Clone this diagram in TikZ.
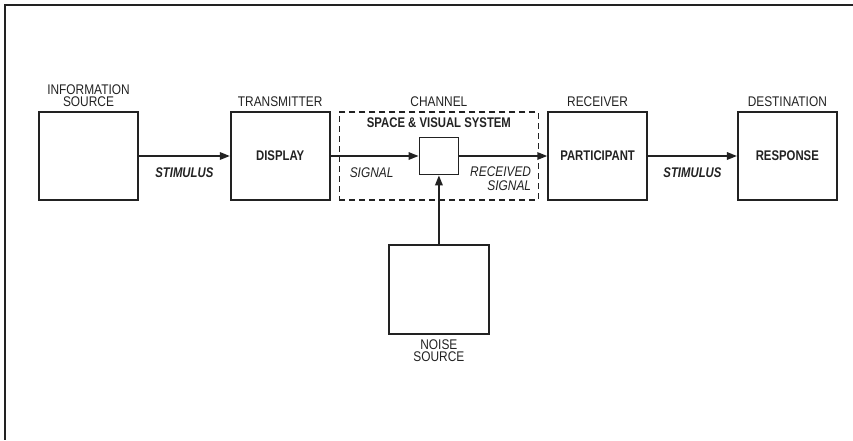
\documentclass[tikz,border=0pt]{standalone}
\usepackage{fontspec}
\setmainfont{Liberation Sans}[FakeStretch=0.85,BoldFeatures={FakeStretch=0.81},BoldItalicFeatures={FakeStretch=0.81}]
\usetikzlibrary{arrows.meta,positioning}
\definecolor{CommInk}{HTML}{222222}
\newcommand\figfont{\fontsize{14}{12.5}\selectfont}

\begin{document}
\begin{tikzpicture}[x=1pt,y=-1pt,node distance=8pt,label distance=3pt]
\tikzset{blk/.style={draw=CommInk,line width=1.7pt,minimum width=99pt,minimum height=88pt,inner sep=0pt,text=CommInk,font=\figfont\bfseries},lab/.style={text=CommInk,align=center,inner sep=1pt,font=\figfont},arr/.style={-{Triangle[length=10pt,width=7.5pt]},CommInk,line width=1.7pt}}
\useasboundingbox (0,0) rectangle (853,440);
\draw[CommInk,line width=1.8pt] (853,5) -- (5,5) -- (5,440);
\node[blk,label={[lab]above:{INFORMATION\\SOURCE}}] (info) at (88.5,156) {};
\node[blk,right=91pt of info,label={[lab]above:TRANSMITTER}] (trans) {DISPLAY};
\node[blk,right=of trans,minimum width=199pt,dash pattern=on 6pt off 4pt,label={[lab]above:CHANNEL}] (chan) {};
\node[blk,right=of chan,label={[lab]above:RECEIVER}] (recv) {PARTICIPANT};
\node[blk,right=89pt of recv,label={[lab]above:DESTINATION}] (dest) {RESPONSE};
\node[blk,minimum width=39pt,minimum height=37pt] (small) at (chan.center) {};
\node[lab,font=\figfont\bfseries,anchor=north] (svs) at ([yshift=-5pt]chan.north) {SPACE \& VISUAL SYSTEM};
\node[blk,below=69pt of small,minimum width=100pt,minimum height=89pt,label={[lab]below:{NOISE\\SOURCE}}] (noise) {};
\node[lab,font=\figfont\itshape,anchor=west] (sig) at ([xshift=10pt,yshift=-17pt]chan.west) {SIGNAL};
\node[lab,font=\fontsize{14}{14}\selectfont\itshape,align=right,anchor=north east] (rsig) at ([xshift=-7pt,yshift=-10pt]chan.east) {RECEIVED\\SIGNAL};
\draw[arr] (info) -- node[lab,below=10pt,font=\figfont\bfseries\itshape] (stim1) {STIMULUS} (trans);
\draw[arr] (trans) -- (small);
\draw[arr] (small) -- (recv);
\draw[arr] (recv) -- node[lab,below=10pt,font=\figfont\bfseries\itshape] (stim2) {STIMULUS} (dest);
\draw[arr] (noise) -- (small);
\end{tikzpicture}
\end{document}
